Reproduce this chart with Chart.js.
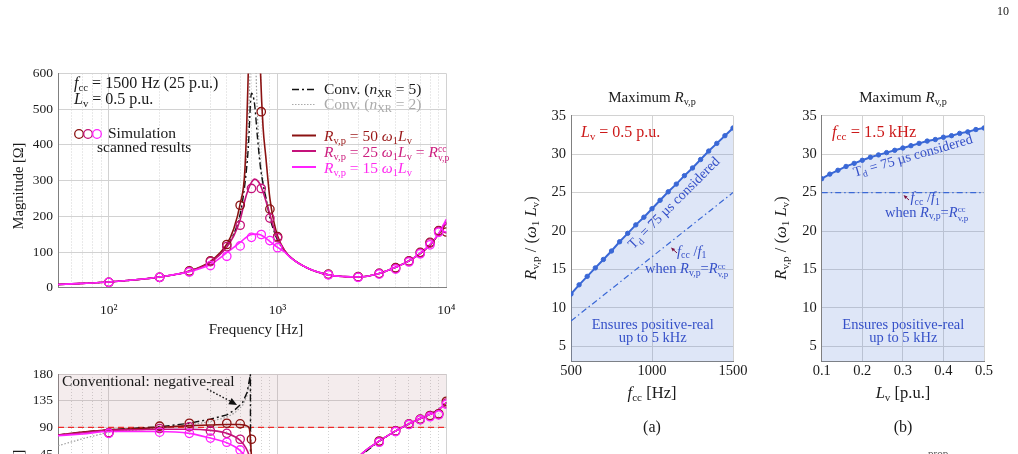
<!DOCTYPE html>
<html lang="en">
<head>
<meta charset="UTF-8">
<title>Virtual resistance: impedance scan and maximum R</title>
<script src="https://cdn.jsdelivr.net/npm/chart.js"></script>
<style>
  html, body { margin: 0; width: 1018px; height: 454px; overflow: hidden; background: #fff; }
  body { position: relative; font-family: 'Liberation Serif', 'Times New Roman', serif; color: #1a1a1a; }
  .box { position: absolute; }
  .t { position: absolute; white-space: nowrap; line-height: 1; }
  .c { transform: translateX(-50%); }
  .rot { transform: translate(-50%, -50%) rotate(-90deg); }
  sub, sup { font-size: 0.68em; line-height: 0; position: relative; vertical-align: baseline; }
  sub { top: 0.28em; }
  sup { top: -0.5em; }
  .ss { display: inline-flex; flex-direction: column; font-size: 0.62em; line-height: 0.95; vertical-align: 0.5em; }
  .blue { color: #3550c8; }
  .red { color: #cc1a1a; }
  svg { position: absolute; left: 0; top: 0; }
</style>
</head>
<body>

<div class="box" style="left:0;top:60px"><canvas id="mag" width="470" height="290"></canvas></div>
<div class="box" style="left:0;top:360px"><canvas id="phase" width="470" height="260"></canvas></div>
<div class="box" style="left:500px;top:100px"><canvas id="rmaxA" width="250" height="300"></canvas></div>
<div class="box" style="left:760px;top:100px"><canvas id="rmaxB" width="250" height="300"></canvas></div>

<!-- legend swatches and arrows -->
<svg width="1018" height="454">
  <line x1="292" y1="89.5" x2="316" y2="89.5" stroke="#111" stroke-width="1.5" stroke-dasharray="7 3 2 3"/>
  <line x1="292" y1="104.5" x2="316" y2="104.5" stroke="#aaa" stroke-width="1.2" stroke-dasharray="1.5 1.5"/>
  <line x1="292" y1="135.5" x2="316" y2="135.5" stroke="#8b1212" stroke-width="2"/>
  <line x1="292" y1="151" x2="316" y2="151" stroke="#c4127a" stroke-width="2"/>
  <line x1="292" y1="167" x2="316" y2="167" stroke="#ff22ff" stroke-width="2"/>
  <circle cx="79" cy="134" r="4.3" fill="none" stroke="#8b1212" stroke-width="1.3"/>
  <circle cx="88" cy="134" r="4.3" fill="none" stroke="#c4127a" stroke-width="1.3"/>
  <circle cx="97" cy="134" r="4.3" fill="none" stroke="#ff22ff" stroke-width="1.3"/>
  <line x1="207" y1="389" x2="230" y2="401" stroke="#111" stroke-width="1.4" stroke-dasharray="1.5 2"/>
  <polygon points="237,405 231.7,398 228.3,404.2" fill="#111"/>
  <line x1="677" y1="253" x2="673.9" y2="250.2" stroke="#7a1040" stroke-width="1"/>
  <polygon points="671,247.5 675.1,248.9 672.7,251.5" fill="#7a1040"/>
  <line x1="909" y1="200" x2="906.4" y2="197.7" stroke="#7a1040" stroke-width="1"/>
  <polygon points="903.5,195 907.6,196.4 905.2,199" fill="#7a1040"/>
</svg>

<div class="t" style="left:997px;top:5px;font-size:12px">10</div>
<div class="t" style="left:928px;top:447.5px;font-size:11px;color:#555">prop</div>

<!-- magnitude panel -->
<div class="t" style="left:74px;top:74.9px;font-size:16px"><i>f</i><sub>cc</sub> = 1500 Hz (25 p.u.)</div>
<div class="t" style="left:74px;top:90.6px;font-size:16px"><i>L</i><sub>v</sub> = 0.5 p.u.</div>
<div class="t" style="left:108px;top:124.7px;font-size:15.5px">Simulation</div>
<div class="t" style="left:97px;top:139.3px;font-size:15.5px">scanned results</div>
<div class="t" style="left:324px;top:81.3px;font-size:15.5px">Conv. (<i>n</i><sub>XR</sub> = 5)</div>
<div class="t" style="left:324px;top:96.3px;font-size:15.5px;color:#aaa">Conv. (<i>n</i><sub>XR</sub> = 2)</div>
<div class="t" style="left:324px;top:128px;font-size:15.5px;color:#9a1818"><i>R</i><sub>v,p</sub> = 50 <i>ω</i><sub>1</sub><i>L</i><sub>v</sub></div>
<div class="t" style="left:324px;top:143.7px;font-size:15.5px;color:#cc1f7f"><i>R</i><sub>v,p</sub> = 25 <i>ω</i><sub>1</sub><i>L</i><sub>v</sub> = <i>R</i><span class="ss"><span>cc</span><span>v,p</span></span></div>
<div class="t" style="left:324px;top:159.7px;font-size:15.5px;color:#ff2af0"><i>R</i><sub>v,p</sub> = 15 <i>ω</i><sub>1</sub><i>L</i><sub>v</sub></div>
<div class="t c" style="left:256px;top:321.7px;font-size:15px">Frequency [Hz]</div>
<div class="t rot" style="left:18px;top:186px;font-size:14.5px">Magnitude [Ω]</div>

<!-- phase panel -->
<div class="t" style="left:62px;top:373px;font-size:15.5px">Conventional: negative-real</div>
<div class="t rot" style="left:18px;top:476px;font-size:14.5px">Phase [°]</div>

<!-- panel (a) -->
<div class="t c" style="left:652px;top:90.1px;font-size:15px">Maximum <i>R</i><sub>v,p</sub></div>
<div class="t red" style="left:581px;top:123.9px;font-size:16px"><i>L</i><sub>v</sub> = 0.5 p.u.</div>
<div class="t blue" style="left:674px;top:202.5px;font-size:14px;transform:translate(-50%,-50%) rotate(-45deg)">T<sub>d</sub> = 75 µs considered</div>
<div class="t blue" style="left:677px;top:243.6px;font-size:14.5px"><i>f</i><sub>cc</sub> /<i>f</i><sub>1</sub></div>
<div class="t blue" style="left:645px;top:261.2px;font-size:14.5px">when <i>R</i><sub>v,p</sub>=<i>R</i><span class="ss"><span>cc</span><span>v,p</span></span></div>
<div class="t c blue" style="left:652.7px;top:317.2px;font-size:14.5px">Ensures positive-real</div>
<div class="t c blue" style="left:652.7px;top:330.2px;font-size:14.5px">up to 5 kHz</div>
<div class="t c" style="left:652px;top:384.5px;font-size:16.5px"><i>f</i><sub>cc</sub> [Hz]</div>
<div class="t c" style="left:652px;top:418.6px;font-size:16px">(a)</div>
<div class="t rot" style="left:531px;top:238px;font-size:16.5px"><i>R</i><sub>v,p</sub> / (<i>ω</i><sub>1</sub> <i>L</i><sub>v</sub>)</div>

<!-- panel (b) -->
<div class="t c" style="left:903px;top:90.1px;font-size:15px">Maximum <i>R</i><sub>v,p</sub></div>
<div class="t red" style="left:832px;top:123.5px;font-size:16.5px"><i>f</i><sub>cc</sub> = 1.5 kHz</div>
<div class="t blue" style="left:913px;top:156px;font-size:14px;transform:translate(-50%,-50%) rotate(-16deg)">T<sub>d</sub> = 75 µs considered</div>
<div class="t blue" style="left:910.5px;top:189.9px;font-size:14.5px"><i>f</i><sub>cc</sub> /<i>f</i><sub>1</sub></div>
<div class="t blue" style="left:885px;top:204.6px;font-size:14.5px">when <i>R</i><sub>v,p</sub>=<i>R</i><span class="ss"><span>cc</span><span>v,p</span></span></div>
<div class="t c blue" style="left:903.3px;top:317.2px;font-size:14.5px">Ensures positive-real</div>
<div class="t c blue" style="left:903.3px;top:330.2px;font-size:14.5px">up to 5 kHz</div>
<div class="t c" style="left:903px;top:385.2px;font-size:16.5px"><i>L</i><sub>v</sub> [p.u.]</div>
<div class="t c" style="left:903px;top:418.6px;font-size:16px">(b)</div>
<div class="t rot" style="left:781px;top:238px;font-size:16.5px"><i>R</i><sub>v,p</sub> / (<i>ω</i><sub>1</sub> <i>L</i><sub>v</sub>)</div>

<script>
// ---- impedance magnitude (Hz / ohm) ----
const magFreq = [50, 70, 100, 150, 200, 300, 400, 500, 550, 600, 640, 670, 700, 730, 760, 790, 820, 850, 900, 950, 1000, 1100, 1200, 1500, 2000, 2500, 3000, 4000, 5000, 6000, 7000, 8000, 9000, 10000];
const magR50 = [9, 12, 16, 23, 30, 47, 74, 122, 165, 235, 330, 600, 1000, 1200, 950, 620, 450, 370, 250, 185, 145, 104, 84, 55, 36, 31, 30, 40, 57, 75, 96, 120, 150, 182];
const magR25 = [9, 12, 16, 23, 30, 46, 71, 114, 145, 190, 245, 275, 295, 304, 300, 288, 268, 245, 205, 168, 138, 104, 84, 55, 36, 31, 30, 40, 57, 75, 96, 120, 150, 186];
const magR15 = [9, 12, 16, 23, 30, 45, 65, 98, 113, 127, 138, 145, 149, 150, 150, 148, 144, 139, 130, 121, 113, 100, 83, 55, 36, 31, 30, 40, 57, 75, 97, 121, 152, 192];
const magConv5 = [9, 12, 16, 23, 30, 46, 72, 116, 150, 205, 290, 390, 545, 515, 420, 340, 290, 255, 196, 160, 133, 103, 84, 55, 36, 31, 30, 40, 57, 75, 96, 120, 150, 182];
const magConv2 = [9, 12, 16, 23, 30, 46, 72, 117, 152, 212, 310, 450, 680, 690, 480, 360, 300, 258, 198, 161, 133, 103, 84, 55, 36, 31, 30, 40, 57, 75, 96, 120, 150, 182];

const simFreq = [100, 200, 300, 400, 500, 600, 700, 800, 900, 1000, 2000, 3000, 4000, 5000, 6000, 7000, 8000, 9000, 10000];
const simMagR50 = [15, 29, 47, 75, 121, 231, null, 493, 220, 143, 38, 31, 40, 56, 75, 99, 127, 160, 156];
const simMagR25 = [15, 29, 45, 73, 115, 175, 278, 278, 195, 140, 37, 30, 40, 54, 74, 97, 125, 158, 165];
const simMagR15 = [15, 29, 44, 62, 88, 117, 141, 149, 132, 112, 36, 29, 38, 52, 72, 95, 120, 155, 168];

// ---- phase (deg) ----
const phaseFreq = [50, 70, 100, 150, 200, 300, 400, 500, 600, 650, 680, 700, 720, 750, 800, 1000, 1500, 2000, 3000, 4000, 5000, 6000, 7000, 8000, 9000, 10000];
const phR50 = [77, 82, 86, 88, 90, 93, 94, 95, 95, 93, 88, 40, -30, -70, -85, -88, -75, -45, 39, 67, 84, 96, 105, 112, 120, 132];
const phR25 = [77, 81, 85, 86, 87, 87, 85, 80, 68, 55, 42, 30, 10, -30, -60, -82, -75, -45, 39, 67, 84, 96, 105, 112, 120, 132];
const phR15 = [76, 79, 83, 83, 83, 80, 72, 64, 51, 40, 30, 20, 5, -20, -50, -80, -75, -45, 39, 67, 84, 96, 105, 112, 120, 132];
const convPhaseFreq = [50, 70, 100, 150, 200, 300, 400, 500, 560, 620, 660, 690, 693, 750, 1000, 1500, 2000, 3000, 4000, 5000, 6000, 7000, 8000, 9000, 10000];
const phConv5 = [77, 82, 86, 89, 91, 97, 104, 111, 120, 132, 149, 179.5, -179.5, -150, -110, -80, -45, 39, 67, 84, 96, 105, 112, 120, 132];
const phConv2 = [59, 71, 82, 86, 89, 94, 100, 107, 115, 127, 144, 179.5, -179.5, -150, -110, -80, -45, 39, 67, 84, 96, 105, 112, 120, 132];

const simPhFreq = [100, 200, 300, 400, 500, 600, 700, 4000, 5000, 6000, 7000, 8000, 9000, 10000];
const simPhR50 = [81, 92, 97, 97, 97, 96, 70, 67, 84, 96, 104, 110, 113, 134];
const simPhR25 = [81, 88, 91, 84, 80, 70, null, 66, 84, 95, 103, 109, 112, 131];
const simPhR15 = [80, 82, 80, 72, 65, 52, null, 65, 83, 95, 103, 108, 111, 129];

const bandFreq = [50, 10000];
const negRealBand = [90, 180];

// ---- maximum R_v,p ----
const fccHz = [500, 550, 600, 650, 700, 750, 800, 850, 900, 950, 1000, 1050, 1100, 1150, 1200, 1250, 1300, 1350, 1400, 1450, 1500];
const rMaxA = [11.8, 13.0, 14.1, 15.2, 16.3, 17.4, 18.6, 19.7, 20.8, 21.8, 22.9, 24.0, 25.1, 26.1, 27.2, 28.2, 29.3, 30.4, 31.4, 32.4, 33.4];
const ratioFccA = [500, 1500];
const ratioA = [8.3, 25];

const lvPu = [0.10, 0.12, 0.14, 0.16, 0.18, 0.20, 0.22, 0.24, 0.26, 0.28, 0.30, 0.32, 0.34, 0.36, 0.38, 0.40, 0.42, 0.44, 0.46, 0.48, 0.50];
const rMaxB = [26.8, 27.4, 27.9, 28.4, 28.8, 29.2, 29.6, 29.9, 30.2, 30.5, 30.8, 31.1, 31.4, 31.7, 31.9, 32.2, 32.4, 32.7, 32.9, 33.2, 33.4];
const ratioLvB = [0.1, 0.5];
const ratioB = [25, 25];

// ---- ticks ----
const freqGrid = [60, 70, 80, 90, 100, 200, 300, 400, 500, 600, 700, 800, 900, 1000, 2000, 3000, 4000, 5000, 6000, 7000, 8000, 9000, 10000];
const decades = [100, 1000, 10000];
const decadeLabels = ['10²', '10³', '10⁴'];
const magTicks = [0, 100, 200, 300, 400, 500, 600];
const phaseTicks = [-180, -135, -90, -45, 0, 45, 90, 135, 180];
const fccTicks = [500, 1000, 1500];
const lvTicks = [0.1, 0.2, 0.3, 0.4, 0.5];
const rTicks = [5, 10, 15, 20, 25, 30, 35];

const col = { r50: '#8b1212', r25: '#c4127a', r15: '#ff22ff', blue: '#3a68d6' };

Chart.defaults.font.family = "'Liberation Serif', 'Times New Roman', serif";
Chart.defaults.color = '#1a1a1a';
Chart.defaults.animation = false;
Chart.defaults.plugins.legend.display = false;
Chart.defaults.plugins.tooltip.enabled = false;

const xy = (xs, ys) => xs.map((x, i) => ({ x, y: ys[i] }));
const setTicks = vals => s => { s.ticks = vals.map(v => ({ value: v })); };
const gridCol = '#d2d2d2';

function curve(xs, ys, color, extra) {
  return Object.assign({ data: xy(xs, ys), borderColor: color, borderWidth: 1.6, pointRadius: 0,
    cubicInterpolationMode: 'monotone', fill: false }, extra || {});
}
function sim(xs, ys, color) {
  return { data: xy(xs, ys), showLine: false, borderColor: color, backgroundColor: 'rgba(0,0,0,0)',
    pointRadius: 4.2, pointBorderWidth: 1.3 };
}
const conv5Style = { borderColor: '#111', borderWidth: 1.4, borderDash: [7, 3, 2, 3] };
const conv2Style = { borderColor: '#9a9a9a', borderWidth: 1.2, borderDash: [1.5, 1.8] };

function logX(h, pad) {
  return {
    type: 'logarithmic', min: 50, max: 10000,
    afterBuildTicks: setTicks(freqGrid),
    afterFit: s => { s.height = h; },
    ticks: { autoSkip: false, maxRotation: 0, padding: pad, font: { size: 13.5 },
      callback: v => decades.includes(v) ? decadeLabels[decades.indexOf(v)] : '' },
    grid: { color: gridCol, drawTicks: false },
    border: { color: '#808080', dash: c => (c.tick && !decades.includes(c.tick.value)) ? [1, 2] : [] }
  };
}
function linY(min, max, ticks, w, size) {
  return {
    min, max, afterBuildTicks: setTicks(ticks), afterFit: s => { s.width = w; },
    ticks: { padding: 5, font: { size } },
    grid: { color: gridCol, drawTicks: false }, border: { color: '#808080' }
  };
}

new Chart(document.getElementById('mag'), {
  type: 'line',
  data: { datasets: [
    sim(simFreq, simMagR15, col.r15), sim(simFreq, simMagR25, col.r25), sim(simFreq, simMagR50, col.r50),
    curve(magFreq, magR15, col.r15), curve(magFreq, magR25, col.r25), curve(magFreq, magR50, col.r50),
    curve(magFreq, magConv5, '#111', conv5Style), curve(magFreq, magConv2, '#999', conv2Style)
  ] },
  options: {
    responsive: false, devicePixelRatio: 1,
    layout: { padding: { left: 0, top: 13.5, right: 16, bottom: 0 } },
    scales: { x: logX(62.3, 14.5), y: linY(0, 600, magTicks, 58, 13.5) }
  }
});

new Chart(document.getElementById('phase'), {
  type: 'line',
  data: { datasets: [
    sim(simPhFreq, simPhR15, col.r15), sim(simPhFreq, simPhR25, col.r25), sim(simPhFreq, simPhR50, col.r50),
    curve(phaseFreq, phR15, col.r15), curve(phaseFreq, phR25, col.r25), curve(phaseFreq, phR50, col.r50),
    curve(convPhaseFreq, phConv5, '#111', Object.assign({ cubicInterpolationMode: 'default', tension: 0 }, conv5Style)),
    curve(convPhaseFreq, phConv2, '#999', Object.assign({ cubicInterpolationMode: 'default', tension: 0 }, conv2Style)),
    { data: xy(bandFreq, [negRealBand[0], negRealBand[0]]), borderColor: '#ee2a2a', borderWidth: 1.2,
      borderDash: [6, 4], pointRadius: 0 },
    { data: xy(bandFreq, [negRealBand[1], negRealBand[1]]), fill: { value: negRealBand[0] },
      backgroundColor: 'rgba(190,140,150,0.17)', borderColor: 'rgba(0,0,0,0)', borderWidth: 0, pointRadius: 0 }
  ] },
  options: {
    responsive: false, devicePixelRatio: 1,
    layout: { padding: { left: 0, top: 14, right: 16, bottom: 0 } },
    scales: { x: logX(32.4, 14.5), y: linY(-180, 180, phaseTicks, 58, 13.5) }
  }
});

function rmaxChart(id, xs, ys, rx, ry, xTicks, xMin, xMax, yW, padR, fmt) {
  new Chart(document.getElementById(id), {
    type: 'line',
    data: { datasets: [
      { data: xy(rx, ry), borderColor: col.blue, borderWidth: 1.2, borderDash: [6, 3, 1.5, 3], pointRadius: 0 },
      { data: xy(xs, ys), borderColor: col.blue, borderWidth: 2, pointRadius: 2.2,
        pointBackgroundColor: col.blue, pointBorderColor: col.blue, pointBorderWidth: 1,
        fill: 'start', backgroundColor: 'rgba(88,130,215,0.2)' }
    ] },
    options: {
      responsive: false, devicePixelRatio: 1,
      layout: { padding: { left: 0, top: 15.7, right: padR, bottom: 0 } },
      scales: {
        x: { type: 'linear', min: xMin, max: xMax, afterBuildTicks: setTicks(xTicks),
          afterFit: s => { s.height = 38.3; },
          ticks: { padding: 0.5, font: { size: 14.5 }, callback: fmt },
          grid: { color: gridCol, drawTicks: false }, border: { color: '#808080' } },
        y: linY(3, 35, rTicks, yW, 14.5)
      }
    }
  });
}
rmaxChart('rmaxA', fccHz, rMaxA, ratioFccA, ratioA, fccTicks, 500, 1500, 71, 17, v => String(v));
rmaxChart('rmaxB', lvPu, rMaxB, ratioLvB, ratioB, lvTicks, 0.1, 0.5, 61.7, 26, v => v.toFixed(1));
</script>
</body>
</html>
